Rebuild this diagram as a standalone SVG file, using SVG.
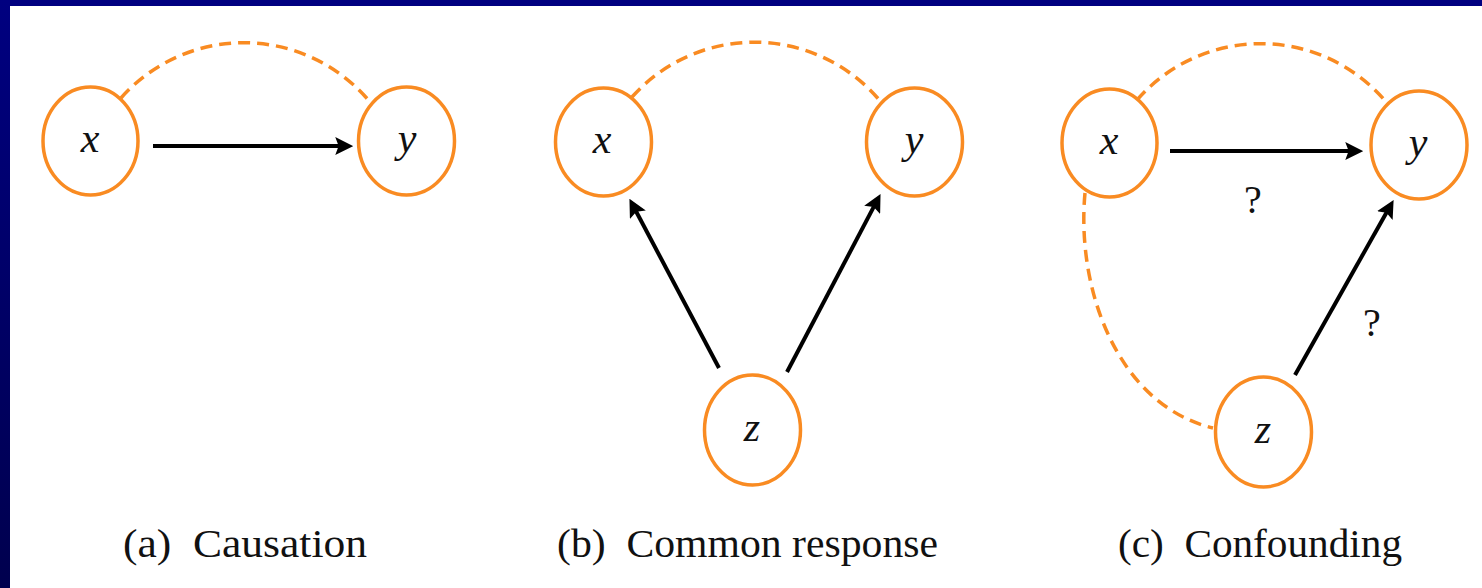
<svg xmlns="http://www.w3.org/2000/svg" width="1482" height="588" viewBox="0 0 1482 588">
<style>
.node ellipse{fill:#ffffff;stroke:#F98B22;stroke-width:3.5}
.lbl{font-family:"Liberation Serif","Tinos","Times New Roman","DejaVu Serif","Noto Serif",serif;font-style:italic;font-size:42px;fill:#111;text-anchor:middle}
.cap{font-family:"Liberation Serif","Tinos","Times New Roman","DejaVu Serif","Noto Serif",serif;font-size:40px;fill:#111}
.q{font-family:"Liberation Serif","Tinos","Times New Roman","DejaVu Serif","Noto Serif",serif;font-size:40px;fill:#111;text-anchor:middle}
.arr{stroke:#000;stroke-width:4;fill:none;marker-end:url(#ah)}
.dash{stroke:#F98B22;stroke-width:3.5;fill:none;stroke-dasharray:12 7}
</style>
<defs>
<linearGradient id="bg" x1="0" y1="0" x2="0" y2="1">
<stop offset="0" stop-color="#000080"/>
<stop offset="1" stop-color="#00004E"/>
</linearGradient>
<marker id="ah" markerUnits="userSpaceOnUse" markerWidth="18" markerHeight="18" viewBox="0 0 16 16" refX="6" refY="8" orient="auto">
<path d="M0,0 L16,8 L0,16 L3,8 z" fill="#000"/>
</marker>
</defs>
<rect x="0" y="0" width="1482" height="588" fill="#ffffff"/>
<rect x="0" y="0" width="1482" height="6" fill="#000080"/>
<rect x="0" y="0" width="10" height="588" fill="url(#bg)"/>

<g id="connectors">
<path class="dash" d="M121,98 A164,164 0 0 1 370,102"/>
<line class="arr" x1="153" y1="146" x2="342" y2="146"/>
<path class="dash" d="M632,97 A164,164 0 0 1 881,102"/>
<line class="arr" x1="719" y1="368" x2="634.7" y2="208.8"/>
<line class="arr" x1="787" y1="372" x2="875.3" y2="203.9"/>
<path class="dash" d="M1137,100 A164,164 0 0 1 1387,103"/>
<line class="arr" x1="1170" y1="151" x2="1352" y2="151"/>
<line class="arr" x1="1295" y1="375" x2="1388.1" y2="209.7"/>
<path class="dash" d="M1085,193 C1076,290 1118,405 1213,428"/>
<text class="q" x="1253" y="213">?</text>
<text class="q" x="1372" y="336">?</text>
</g>

<g id="a-x" class="node"><ellipse cx="90.5" cy="141" rx="47.5" ry="54"/><text class="lbl" x="90" y="152">x</text></g>
<g id="a-y" class="node"><ellipse cx="406.5" cy="141" rx="48" ry="54"/><text class="lbl" x="407" y="152">y</text></g>
<g id="b-x" class="node"><ellipse cx="603.5" cy="142" rx="48" ry="54"/><text class="lbl" x="602" y="153">x</text></g>
<g id="b-y" class="node"><ellipse cx="914.5" cy="142" rx="48" ry="54"/><text class="lbl" x="914" y="153">y</text></g>
<g id="b-z" class="node"><ellipse cx="752.5" cy="430" rx="48" ry="55"/><text class="lbl" x="752" y="441">z</text></g>
<g id="c-x" class="node"><ellipse cx="1109.5" cy="143" rx="47.5" ry="54"/><text class="lbl" x="1109" y="154">x</text></g>
<g id="c-y" class="node"><ellipse cx="1419" cy="145" rx="48" ry="54"/><text class="lbl" x="1418" y="156">y</text></g>
<g id="c-z" class="node"><ellipse cx="1263.5" cy="432" rx="48" ry="55"/><text class="lbl" x="1263" y="443">z</text></g>

<g id="captions">
<text class="cap" x="123" y="557" textLength="244" lengthAdjust="spacingAndGlyphs" xml:space="preserve">(a)  Causation</text>
<text class="cap" x="557" y="557" textLength="381" lengthAdjust="spacingAndGlyphs" xml:space="preserve">(b)  Common response</text>
<text class="cap" x="1118" y="557" textLength="284" lengthAdjust="spacingAndGlyphs" xml:space="preserve">(c)  Confounding</text>
</g>
</svg>
